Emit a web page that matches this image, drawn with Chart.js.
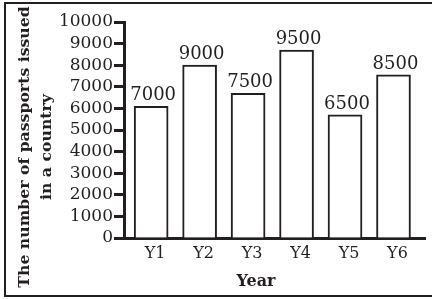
<!DOCTYPE html>
<html>
<head>
<meta charset="utf-8">
<script src="https://cdn.jsdelivr.net/npm/chart.js@4.4.1/dist/chart.umd.min.js"></script>
<style>
  html, body { margin: 0; padding: 0; background: #fff; overflow: hidden; }
  #wrap { position: relative; width: 432px; height: 299px; }
  #frame { position: absolute; left: 4px; top: 2px; width: 450px; height: 295px;
           border: 2px solid #231f20; box-sizing: border-box; pointer-events: none; }
  canvas { position: absolute; left: 0; top: 0; }
</style>
</head>
<body>
<div id="wrap">
  <canvas id="passport-chart" width="432" height="299"></canvas>
  <div id="frame"></div>
</div>
<script>
// Years on the x axis
const years = ["Y1", "Y2", "Y3", "Y4", "Y5", "Y6"];
// Bar heights as drawn in the picture
const barValues = [6100, 8000, 6700, 8700, 5700, 7550];
// Numbers printed above the bars
const valueLabels = ["7000", "9000", "7500", "9500", "6500", "8500"];
// Y axis ticks
const yTicks = [0, 1000, 2000, 3000, 4000, 5000, 6000, 7000, 8000, 9000, 10000];

const xTitle = "Year";
const yTitle = ["The number of passports issued", "in a country"];

const ink = "#231f20";
const serif = '"DejaVu Serif", serif';

const points = barValues.map((v, i) => ({ x: i + 1, y: v }));

const annotate = {
    id: "annotate",
    afterDatasetsDraw(chart) {
        const ctx = chart.ctx;
        const area = chart.chartArea;
        const meta = chart.getDatasetMeta(0);
        ctx.save();
        ctx.fillStyle = ink;
        ctx.textAlign = "center";
        ctx.textBaseline = "alphabetic";
        ctx.font = "18px " + serif;
        meta.data.forEach((bar, i) => {
            ctx.fillText(valueLabels[i], bar.x + 2, bar.y - 6);
        });

        ctx.font = "bold 16px " + serif;
        ctx.textBaseline = "middle";
        ctx.fillText(xTitle, area.left + 132, area.bottom + 44);

        ctx.translate(25, (area.top + area.bottom) / 2 + 17);
        ctx.rotate(-Math.PI / 2);
        ctx.font = "bold 15.7px " + serif;
        ctx.fillText(yTitle[0], 0, 0);
        ctx.fillText(yTitle[1], 0, 22);
        ctx.restore();
    }
};

new Chart(document.getElementById("passport-chart").getContext("2d"), {
    type: "bar",
    data: {
        datasets: [{
            data: points,
            backgroundColor: "#ffffff",
            borderColor: ink,
            borderWidth: 2,
            barThickness: 34
        }]
    },
    options: {
        responsive: false,
        animation: false,
        layout: { padding: { top: 22, right: 7, left: 0, bottom: 0 } },
        plugins: { legend: { display: false }, tooltip: { enabled: false } },
        scales: {
            x: {
                type: "linear",
                min: 0.44,
                max: 6.65,
                offset: false,
                bounds: "data",
                afterFit: (scale) => { scale.height = 61; },
                afterBuildTicks: (scale) => {
                    scale.ticks = years.map((y, i) => ({ value: i + 1 }));
                },
                grid: { display: false, drawTicks: false },
                border: { display: true, color: ink, width: 3 },
                ticks: {
                    color: ink,
                    font: { family: serif, size: 16 },
                    padding: 6,
                    labelOffset: 4,
                    autoSkip: false,
                    maxRotation: 0,
                    callback: (v) => years[v - 1] || ""
                }
            },
            y: {
                min: 0,
                max: 10000,
                afterFit: (scale) => { scale.width = 124; },
                afterBuildTicks: (scale) => {
                    scale.ticks = yTicks.map(v => ({ value: v }));
                },
                grid: { drawOnChartArea: false, drawTicks: true, tickLength: 10, tickWidth: 3, tickColor: ink },
                border: { display: true, color: ink, width: 3 },
                ticks: {
                    color: ink,
                    font: { family: serif, size: 17 },
                    padding: 1,
                    autoSkip: false,
                    callback: (v) => String(v)
                }
            }
        }
    },
    plugins: [annotate]
});
</script>
</body>
</html>
